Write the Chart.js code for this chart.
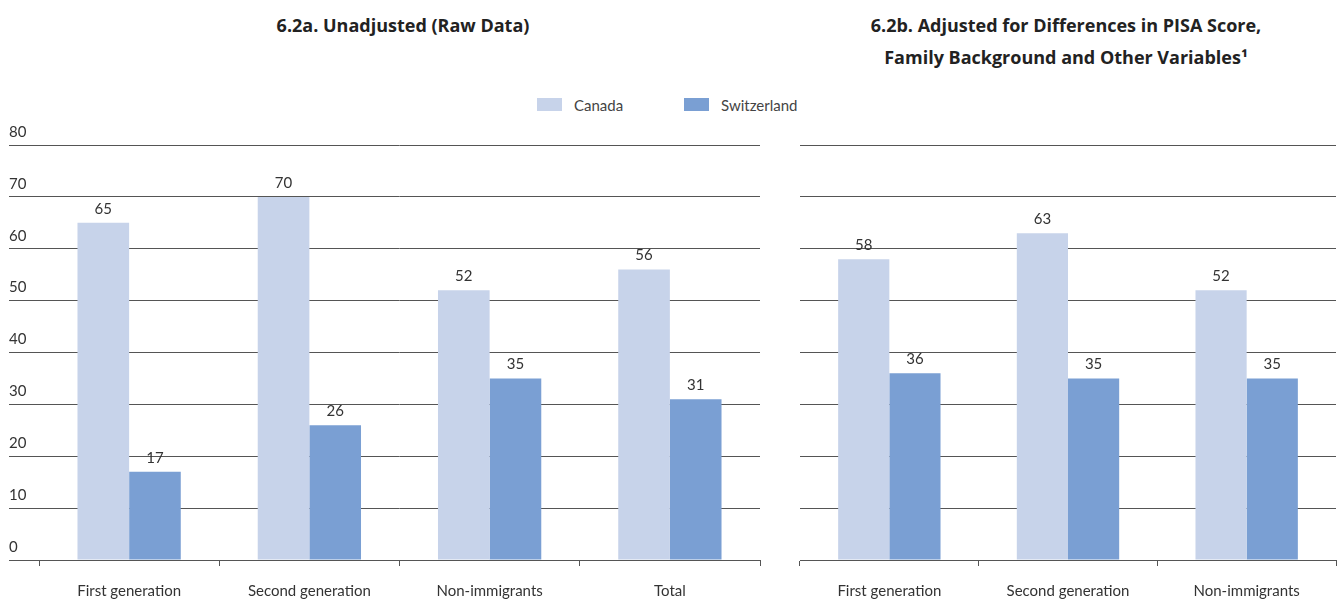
<!DOCTYPE html>
<html>
<head>
<meta charset="utf-8">
<script src="https://cdn.jsdelivr.net/npm/chart.js@4"></script>
<style>
  html, body { margin:0; padding:0; background:#fff; }
  body { width:1337px; height:600px; position:relative; overflow:hidden; font-family: Lato, "Open Sans", sans-serif; }
  .title { position:absolute; font-family:"Open Sans", Lato, sans-serif; font-weight:bold; font-size:18px; color:#222; text-align:center; line-height:32px; }
  #legend { position:absolute; top:94px; left:0; width:1337px; height:22px; font-size:15px; color:#444; }
  .lg { position:absolute; top:0; height:22px; line-height:22px; }
  .box { position:absolute; top:4px; width:25px; height:13px; }
  canvas { position:absolute; top:0; }
</style>
</head>
<body>
<div class="title" style="left:203px; width:400px; top:9px;">6.2a. Unadjusted (Raw Data)</div>
<div class="title" style="left:816px; width:500px; top:9px;">6.2b. Adjusted for Differences in PISA Score,<br>Family Background and Other Variables¹</div>
<div id="legend">
  <div class="box" style="left:537px; background:#c7d3ea;"></div>
  <div class="lg" style="left:574px;">Canada</div>
  <div class="box" style="left:684px; background:#7a9fd3;"></div>
  <div class="lg" style="left:721px;">Switzerland</div>
</div>
<canvas id="cA" width="780" height="600" style="left:0;"></canvas>
<canvas id="cB" width="557" height="600" style="left:780px;"></canvas>
<script>
const seriesNames = ['Canada', 'Switzerland'];
const categoriesA = ['First generation', 'Second generation', 'Non-immigrants', 'Total'];
const canadaA = [65, 70, 52, 56];
const switzerlandA = [17, 26, 35, 31];
const categoriesB = ['First generation', 'Second generation', 'Non-immigrants'];
const canadaB = [58, 63, 52];
const switzerlandB = [36, 35, 35];
const yMin = 0, yMax = 80, yStep = 10;

const colCanada = '#c7d3ea';
const colSwiss = '#7a9fd3';
const gridCol = '#555';
const FONT = 'Lato, "Open Sans", sans-serif';

const valueLabels = {
  id: 'valueLabels',
  afterDatasetsDraw(chart) {
    const ctx = chart.ctx;
    ctx.save();
    ctx.font = '15px ' + FONT;
    ctx.fillStyle = '#333';
    ctx.textAlign = 'center';
    ctx.textBaseline = 'middle';
    chart.data.datasets.forEach((ds, di) => {
      const meta = chart.getDatasetMeta(di);
      meta.data.forEach((bar, i) => {
        ctx.fillText(String(ds.data[i]), bar.x, bar.y - 14);
      });
    });
    ctx.restore();
  }
};

function makeChart(id, cats, can, swi, showY) {
  return new Chart(document.getElementById(id), {
    type: 'bar',
    data: {
      labels: cats,
      datasets: [
        { label: seriesNames[0], data: can, backgroundColor: colCanada, borderWidth: 0, categoryPercentage: 0.573, barPercentage: 1 },
        { label: seriesNames[1], data: swi, backgroundColor: colSwiss, borderWidth: 0, categoryPercentage: 0.573, barPercentage: 1 }
      ]
    },
    options: {
      responsive: false,
      animation: false,
      devicePixelRatio: 1,
      layout: { padding: { left: showY ? 9 : 20, right: showY ? 20 : 1, top: 145, bottom: 0 } },
      plugins: { legend: { display: false }, title: { display: false }, tooltip: { enabled: false } },
      scales: {
        x: {
          grid: { drawOnChartArea: false, drawTicks: true, tickLength: 6, color: gridCol, offset: true },
          border: { display: true, color: gridCol, width: 1 },
          ticks: { font: { family: FONT, size: 15 }, color: '#333', padding: 16 },
          afterFit: s => { s.height = 40; }
        },
        y: {
          min: yMin, max: yMax,
          grid: { color: gridCol, drawTicks: showY, tickLength: 30, lineWidth: 1 },
          border: { display: false },
          ticks: { display: showY, stepSize: yStep, crossAlign: 'far', labelOffset: -13, padding: 0,
                   font: { family: FONT, size: 15 }, color: '#333' },
          afterFit: s => { s.width = showY ? 30 : 0; }
        }
      }
    },
    plugins: [valueLabels]
  });
}

makeChart('cA', categoriesA, canadaA, switzerlandA, true);
makeChart('cB', categoriesB, canadaB, switzerlandB, false);
</script>
</body>
</html>
